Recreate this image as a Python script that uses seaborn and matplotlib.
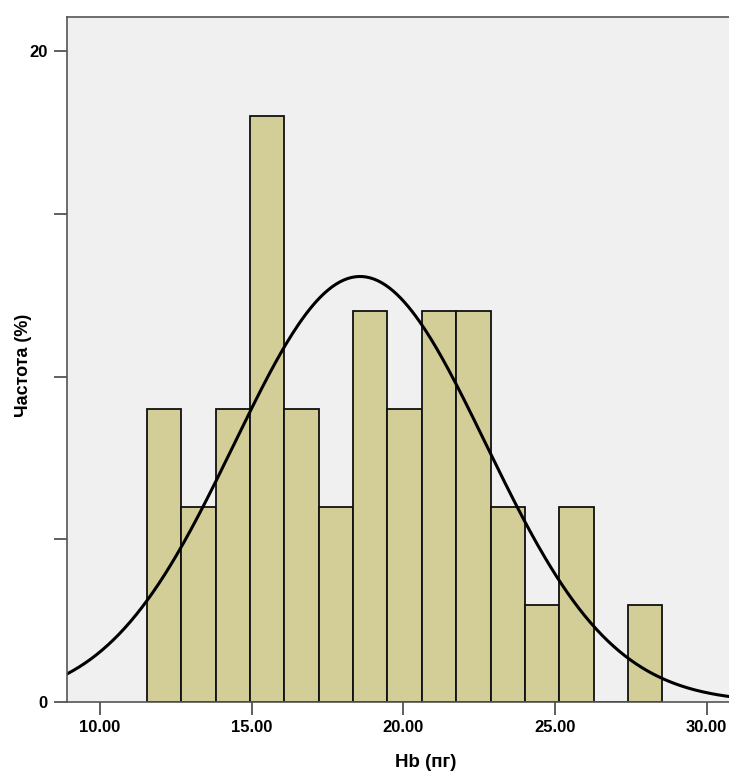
import numpy as np
import pandas as pd
import matplotlib
matplotlib.use("Agg")
import matplotlib.pyplot as plt
import seaborn as sns

# частоты по интервалам (15 столбцов)
heights = [9, 6, 9, 18, 9, 6, 12, 9, 12, 12, 6, 3, 6, 0, 3]
hb_min = 11.54  # левая граница первого интервала
hb_max = 28.54  # правая граница последнего интервала

# параметры нормальной кривой
hb_mean = 18.57
hb_sd = 4.15

x_ticks = [10, 15, 20, 25, 30]
y_ticks = [0, 5, 10, 15, 20]
y_tick_labels = ["0", "", "", "", "20"]

sns.set_theme(style="ticks")
plt.rcParams["font.family"] = ["Liberation Sans", "DejaVu Sans"]

n_bins = len(heights)
bin_w = (hb_max - hb_min) / n_bins
centers = hb_min + bin_w * (np.arange(n_bins) + 0.5)
df = pd.DataFrame({"hb": centers, "freq": heights})

fig = plt.figure(figsize=(7.29, 7.75), dpi=100)
ax = fig.add_axes([66.7 / 729, 72.7 / 775, 718.3 / 729, 685.6 / 775])
ax.set_facecolor("#F0F0F0")

sns.histplot(data=df, x="hb", weights="freq", bins=n_bins, binrange=(hb_min, hb_max),
             ax=ax, color="#D3CD98", alpha=1, edgecolor="#111111", linewidth=1.3)

# нормальная кривая
xs = np.linspace(8.0, 33.0, 400)
ys = sum(heights) * bin_w / (hb_sd * np.sqrt(2 * np.pi)) * np.exp(-0.5 * ((xs - hb_mean) / hb_sd) ** 2)
sns.lineplot(x=xs, y=ys, ax=ax, color="black", linewidth=2.2)

ax.set_xlim(8.90, 32.58)
ax.set_ylim(0, 21.05)
ax.set_xticks(x_ticks)
ax.set_xticklabels([f"{v:.2f}" for v in x_ticks])
ax.set_yticks(y_ticks)
ax.set_yticklabels(y_tick_labels)

for s in ["left", "bottom", "top"]:
    ax.spines[s].set_color("#555555")
    ax.spines[s].set_linewidth(1.2)
ax.spines["right"].set_visible(False)

ax.tick_params(axis="both", length=9.5, width=1.2, color="#444444",
               labelsize=12, labelcolor="black")
ax.tick_params(axis="x", pad=3.5)
ax.tick_params(axis="y", pad=4)
for lbl in ax.get_xticklabels() + ax.get_yticklabels():
    lbl.set_fontweight("bold")

ax.set_xlabel("Hb (пг)", fontsize=13.5, fontweight="bold", color="black")
ax.set_ylabel("Частота (%)", fontsize=13, fontweight="bold", color="black")
ax.xaxis.set_label_coords((426 - 66.7) / 718.3, (702.3 - 754) / 685.6)
ax.yaxis.set_label_coords((32 - 66.7) / 718.3, (702.3 - 365) / 685.6)

fig.savefig("out.png", dpi=100)
